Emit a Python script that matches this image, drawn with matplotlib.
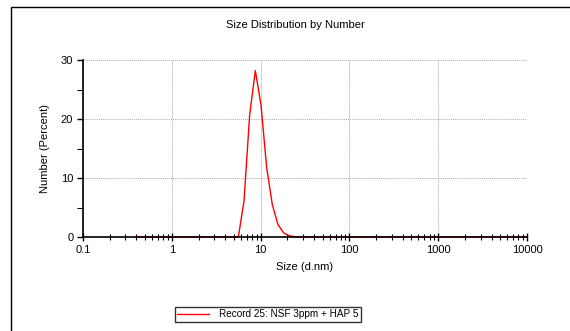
import matplotlib
matplotlib.use('Agg')
import matplotlib.pyplot as plt
from matplotlib.patches import Rectangle
from matplotlib.ticker import LogLocator, FixedLocator, NullFormatter

plt.rcParams['font.family'] = ['Liberation Sans', 'DejaVu Sans']

# size bins (d.nm) and number distribution (%)
sizes = [0.4, 5.615, 6.503, 7.531, 8.721, 10.1, 11.7, 13.54, 15.69, 18.17, 21.04, 24.36, 28.21, 10000]
number = [0.0, 0.0, 6.1, 20.7, 28.2, 22.4, 11.8, 5.5, 2.1, 0.7, 0.2, 0.05, 0.0, 0.0]
series_label = 'Record 25: NSF 3ppm + HAP 5'
x_ticks = [0.1, 1, 10, 100, 1000, 10000]
x_tick_labels = ['0.1', '1', '10', '100', '1000', '10000']
y_ticks = [0, 10, 20, 30]

fig = plt.figure(figsize=(5.7, 3.31), dpi=100)
ax = fig.add_axes([83 / 570, 1 - 237 / 331, 444 / 570, 177 / 331])

line, = ax.plot(sizes, number, color='red', lw=1.0, zorder=2, clip_on=False)

ax.set_xscale('log')
ax.set_xlim(0.1, 10000)
ax.set_ylim(0, 30)
ax.set_xticks(x_ticks)
ax.set_xticklabels(x_tick_labels)
ax.xaxis.set_minor_locator(LogLocator(base=10, subs=range(2, 10), numticks=20))
ax.xaxis.set_minor_formatter(NullFormatter())
ax.set_yticks(y_ticks)
ax.yaxis.set_minor_locator(FixedLocator([5, 15, 25]))

ax.grid(True, which='major', color='#aaaaaa', linestyle=(0, (1, 1)), lw=0.7)
for s in ['top', 'right']:
    ax.spines[s].set_visible(False)
for s in ['left', 'bottom']:
    ax.spines[s].set_linewidth(1.2)
    ax.spines[s].set_zorder(3)

ax.tick_params(axis='both', which='major', direction='out', length=4, width=1,
               labelsize=8, colors='black', pad=3)
ax.tick_params(axis='x', which='minor', direction='inout', length=4, width=0.8)
ax.tick_params(axis='y', which='minor', direction='out', length=4, width=0.8)
ax.tick_params(axis='x', which='major', direction='inout', length=6)

ax.set_xlabel('Size (d.nm)', fontsize=8, labelpad=5)
ax.set_ylabel('Number (Percent)', fontsize=8, labelpad=8)

fig.text(0.518, 0.924, 'Size Distribution by Number', ha='center', va='center', fontsize=8)

fig.legend([line], [series_label], loc='center', bbox_to_anchor=(268 / 570, 1 - 314 / 331),
           fontsize=7.2, frameon=True, fancybox=False, edgecolor='black',
           handlelength=3.2, borderpad=0.25, handletextpad=1.0, borderaxespad=0)

# outer frame
fig.patches.append(Rectangle((11 / 570, -0.1), 1.2, 1 - 7 / 331 + 0.1, transform=fig.transFigure,
                             fill=False, edgecolor='black', lw=1.0))

fig.savefig('out.png', dpi=100)
